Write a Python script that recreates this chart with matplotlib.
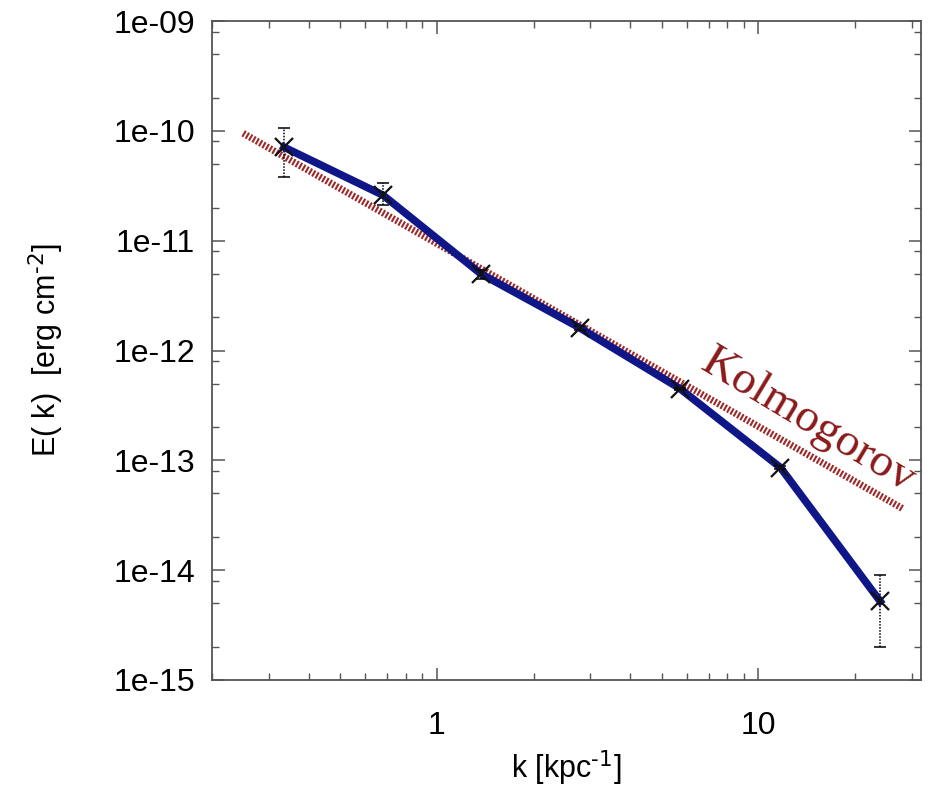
import numpy as np
import matplotlib
matplotlib.use('Agg')
import matplotlib.pyplot as plt
import matplotlib.ticker as tick

# spektar energije E(k) s greskama
k = [0.335, 0.68, 1.37, 2.78, 5.7, 11.7, 23.9]
E = [7.1e-11, 2.6e-11, 5.0e-12, 1.61e-12, 4.5e-13, 8.6e-14, 5.2e-15]
E_lo = [3.8e-11, 2.1e-11, 4.5e-12, 1.55e-12, 4.4e-13, 8.3e-14, 2.0e-15]
E_hi = [1.06e-10, 3.35e-11, 5.4e-12, 1.67e-12, 4.6e-13, 8.9e-14, 9.1e-15]

# Kolmogorovljev nagib k^(-5/3), krajnje tocke
kol_k = [0.25, 28.0]
kol_E = [9.5e-11, 3.65e-14]

plt.rcParams['font.family'] = ['Liberation Sans', 'DejaVu Sans']

fig = plt.figure(figsize=(9.35, 7.93), dpi=100)
ax = fig.add_axes([0.2267, 0.1425, 0.7583, 0.831])

ax.plot(kol_k, kol_E, color='#9c2a2a', lw=5.0, dashes=(0.3, 0.25),
        solid_capstyle='butt', dash_capstyle='butt', zorder=2)
ax.plot(k, E, color='#0f1688', lw=5.5, solid_joinstyle='round', zorder=3)

yerr = [np.array(E) - np.array(E_lo), np.array(E_hi) - np.array(E)]
eb = ax.errorbar(k, E, yerr=yerr, fmt='none', ecolor='black', elinewidth=1.1,
                 capsize=4, capthick=1.1, zorder=4)
for lc in eb[2]:
    lc.set_linestyle((0, (1, 1)))
ax.plot(k, E, ls='none', marker='x', ms=13, mew=1.6, color='#111111', zorder=5)

ax.set_xscale('log')
ax.set_yscale('log')
ax.set_xlim(0.2, 32)
ax.set_ylim(1e-15, 1e-9)

ax.xaxis.set_major_locator(tick.FixedLocator([1, 10]))
ax.xaxis.set_major_formatter(tick.FixedFormatter(['1', '10']))
ax.xaxis.set_minor_locator(tick.LogLocator(base=10, subs=np.arange(2, 10)))
ax.xaxis.set_minor_formatter(tick.NullFormatter())

yt = [1e-15, 1e-14, 1e-13, 1e-12, 1e-11, 1e-10, 1e-9]
ax.yaxis.set_major_locator(tick.FixedLocator(yt))
ax.yaxis.set_major_formatter(tick.FixedFormatter(['1e-15', '1e-14', '1e-13', '1e-12',
                                                  '1e-11', '1e-10', '1e-09']))
ax.yaxis.set_minor_locator(tick.LogLocator(base=10, subs=[2, 5, 8]))
ax.yaxis.set_minor_formatter(tick.NullFormatter())

for s in ax.spines.values():
    s.set_color('#555555')
    s.set_linewidth(1.3)
ax.tick_params(which='both', direction='in', top=True, right=True, color='#555555')
ax.tick_params(which='major', length=9, width=1.1, labelsize=23, pad=12)
ax.tick_params(which='minor', length=5, width=1.0)
ax.tick_params(axis='x', which='major', pad=22)

ax.set_xlabel(r'k [kpc$^{\text{-}1}$]', fontsize=22, labelpad=6)
ax.set_ylabel(r'E( k)  [erg cm$^{\text{-}2}$]', fontsize=22, labelpad=34)

ax.text(14.3, 2.3e-13, 'Kolmogorov', family=['Liberation Serif', 'DejaVu Serif'],
        fontsize=34, color='#8b1a1a', rotation=-31, ha='center', va='center')

fig.savefig('out.png', dpi=100)
